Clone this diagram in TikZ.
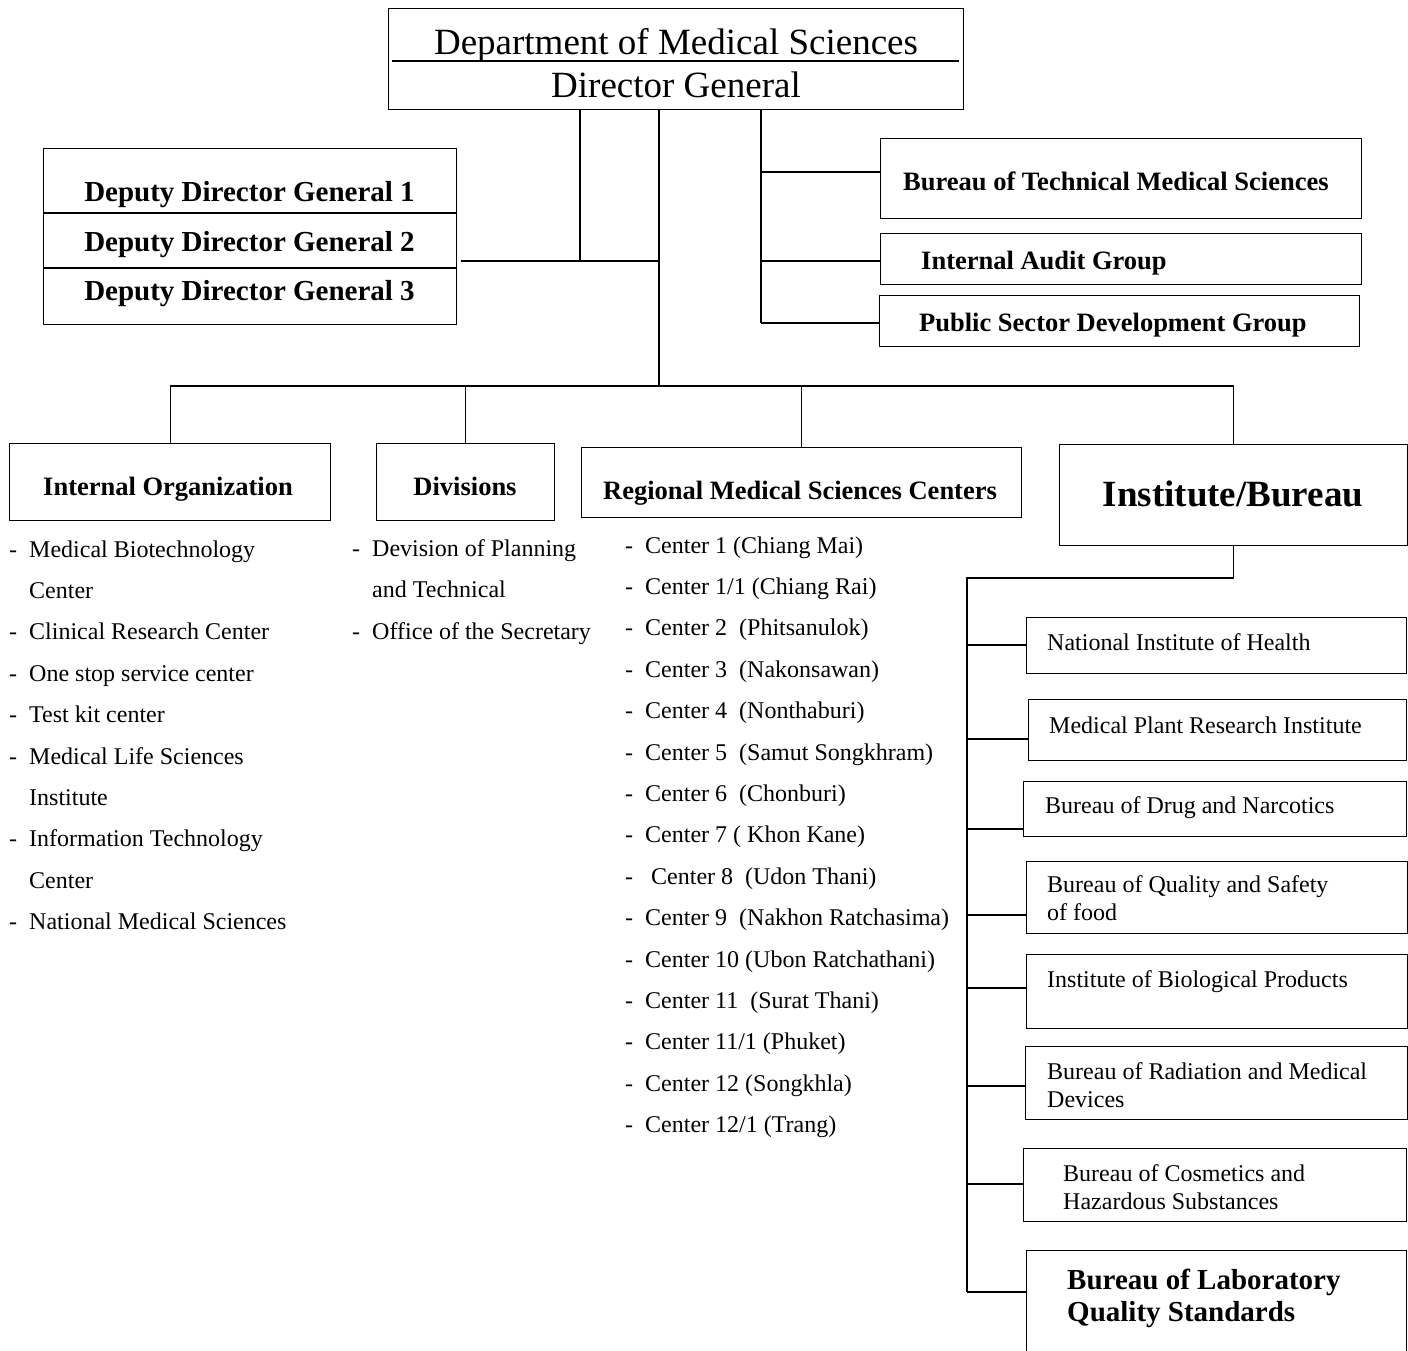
\documentclass[tikz,border=0pt]{standalone}
\usepackage{fontspec}
\setmainfont{Liberation Serif}
\usetikzlibrary{positioning}

\tikzset{
  box/.style   = {draw, line width=1.4pt, inner sep=0pt, anchor=north west},
  link/.style  = {line width=1.3pt},
  plain/.style = {font=\fontsize{24}{28}\selectfont, inner sep=0pt, align=left},
  hd/.style    = {font=\fontsize{26.5}{30}\selectfont\bfseries, inner sep=0pt},
  big/.style   = {font=\fontsize{29}{32}\selectfont\bfseries, inner sep=0pt, align=left},
  title/.style = {font=\fontsize{37}{40}\selectfont, inner sep=0pt},
}

\begin{document}
\begin{tikzpicture}[x=1pt, y=-1pt]
\useasboundingbox (0,0) rectangle (1408,1350);
% top
\node (top) [box, minimum width=575, minimum height=101] at (388,8) {};
\draw[link] (392,61) -- (959,61);
\node (dms) [title, anchor=base] at (676,54) {Department of Medical Sciences};
\node (dg)  [title, anchor=base] at (676,97) {Director General};
%
\node (dep) [box, minimum width=413, minimum height=176] at (43,148) {};
\draw[link] (dep.west |- 0,213) -- (dep.east |- 0,213);
\draw[link] (dep.west |- 0,268) -- (dep.east |- 0,268);
\foreach \k/\yy in {1/201, 2/251, 3/300}
    \node (ddg\k) [big, anchor=base] at (249.5,\yy) {Deputy Director General \k};
%
\node (btm) [box, minimum width=481, minimum height=80] at (880,138) {};
\node (iag) [box, minimum width=481, minimum height=51] at (880,233) {};
\node (psd) [box, minimum width=480, minimum height=51] at (879,295) {};
\node (btmt) [hd, anchor=base west] at (903,190) {Bureau of Technical Medical Sciences};
\node (iagt) [hd, anchor=base west] at (921,269) {Internal Audit Group};
\node (psdt) [hd, anchor=base west] at (919,331) {Public Sector Development Group};
%
\coordinate (j1)    at (580,261);
\coordinate (trunk) at (659,386);
\coordinate (rt)    at (761,323);
\draw[link] (top.south -| j1) -- (j1);
\draw[link] (top.south -| trunk) -- (trunk);
\draw[link] (top.south -| rt) -- (rt);
\draw[link] ([xshift=4pt]dep.east |- j1) -- (trunk |- j1);
\foreach \n/\yy in {btm/172, iag/261, psd/323}
    \draw[link] (rt |- 0,\yy) -- (\n.west |- 0,\yy);
%
\node (intorg) [box, minimum width=321, minimum height=77]  at (9,443) {};
\node (div)    [box, minimum width=178, minimum height=77]  at (376,443) {};
\node (rmsc)   [box, minimum width=440, minimum height=70]  at (581,447) {};
\node (inst)   [box, minimum width=348, minimum height=101] at (1059,444) {};
\node (intorgt) [hd, anchor=base] at (168,495) {Internal Organization};
\node (divt)    [hd, anchor=base] at (465,495) {Divisions};
\node (rmsct)   [hd, anchor=base] at (800,499) {Regional Medical Sciences Centers};
\node (instt)   [hd, font=\fontsize{37}{40}\selectfont\bfseries, anchor=base] at (1233,506) {Institute/Bureau};
%
\draw[link] (intorg.north |- trunk) -- (inst.north |- trunk);
\foreach \n in {intorg, div, rmsc, inst}
    \draw[link] (\n.north |- trunk) -- (\n.north);
%
\foreach \dd/\txt [count=\i from 0] in {-/Medical Biotechnology, /Center,
        -/Clinical Research Center, -/One stop service center, -/Test kit center,
        -/Medical Life Sciences, /Institute, -/Information Technology, /Center,
        -/National Medical Sciences}
{
    \node (iod\i) [plain, anchor=base west] at (9,557+41.4*\i) {\dd};
    \node (iot\i) [plain, anchor=base west] at (29,557+41.4*\i) {\txt};
}
\foreach \dd/\txt [count=\i from 0] in {-/Devision of Planning, /and Technical,
        -/Office of the Secretary}
{
    \node (dvd\i) [plain, anchor=base west] at (352,556+41.5*\i) {\dd};
    \node (dvt\i) [plain, anchor=base west] at (372,556+41.5*\i) {\txt};
}
\foreach \txt [count=\i from 0] in {Center 1 (Chiang Mai), Center 1/1 (Chiang Rai),
        Center 2~ (Phitsanulok), Center 3~ (Nakonsawan), Center 4~ (Nonthaburi),
        Center 5~ (Samut Songkhram), Center 6~ (Chonburi), Center 7 ( Khon Kane),
        \hspace*{6pt}Center 8~ (Udon Thani), Center 9~ (Nakhon Ratchasima),
        Center 10 (Ubon Ratchathani), Center 11~ (Surat Thani),
        Center 11/1 (Phuket), Center 12 (Songkhla), Center 12/1 (Trang)}
{
    \node (rmd\i) [plain, anchor=base west] at (625,553+41.4*\i) {-};
    \node (rmt\i) [plain, anchor=base west] at (645,553+41.4*\i) {\txt};
}
% institutes and bureaus
\node (nih)  [box, minimum width=380, minimum height=56]  at (1026,617) {};
\node (mpri) [box, minimum width=378, minimum height=61]  at (1028,699) {};
\node (bdn)  [box, minimum width=383, minimum height=55]  at (1023,781) {};
\node (bqsf) [box, minimum width=381, minimum height=72]  at (1026,861) {};
\node (ibp)  [box, minimum width=381, minimum height=74]  at (1026,954) {};
\node (brmd) [box, minimum width=382, minimum height=73]  at (1025,1046) {};
\node (bchs) [box, minimum width=383, minimum height=73]  at (1023,1148) {};
\node (blqs) [box, minimum width=380, minimum height=130] at (1026,1250) {};
%
\node (niht)  [plain, anchor=base west] at (1047,650) {National Institute of Health};
\node (mprit) [plain, anchor=base west] at (1049,733) {Medical Plant Research Institute};
\node (bdnt)  [plain, anchor=base west] at (1045,813) {Bureau of Drug and Narcotics};
\node (bqsft) [plain, anchor=west] at (1047,898.5) {Bureau of Quality and Safety\\of food};
\node (ibpt)  [plain, anchor=base west] at (1047,987) {Institute of Biological Products};
\node (brmdt) [plain, anchor=west] at (1047,1085) {Bureau of Radiation and Medical\\Devices};
\node (bchst) [plain, anchor=west] at (1063,1187) {Bureau of Cosmetics and\\Hazardous Substances};
\node (blqst) [big, anchor=west] at (1067,1298) {Bureau of Laboratory\\Quality Standards};
%
\coordinate (ibus) at (967,578);
\draw[link] (inst.south) |- (ibus) -- (ibus |- 0,1292);
\foreach \n/\yy in {nih/645, mpri/739, bdn/829, bqsf/915, ibp/988, brmd/1086, bchs/1184, blqs/1292}
    \draw[link] (ibus |- 0,\yy) -- (\n.west |- 0,\yy);
\end{tikzpicture}
\end{document}
